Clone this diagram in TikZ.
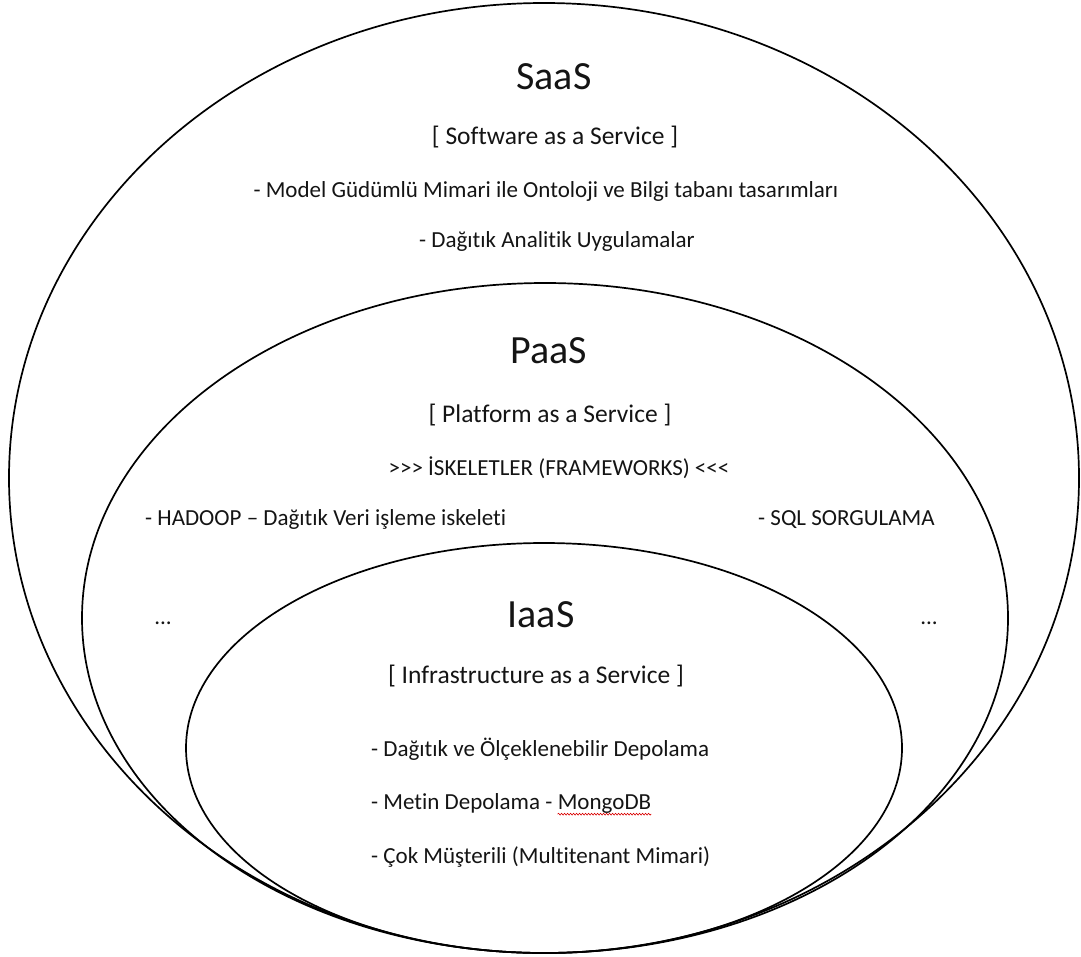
\documentclass[tikz,border=0pt]{standalone}
\usepackage{fontspec}
\setmainfont{Carlito}[Ligatures={NoCommon,NoContextual}]
\usetikzlibrary{decorations.pathmorphing}
\begin{document}
\begin{tikzpicture}[x=1pt,y=-1pt,
  shell/.style={line width=1.7pt, draw=black},
  ttl/.style={inner sep=0pt, anchor=base, text=black!92, font=\fontsize{40}{48}\selectfont},
  sub/.style={inner sep=0pt, anchor=base, text=black!92, font=\fontsize{25.5}{30}\selectfont},
  itm/.style={inner sep=0pt, anchor=base, text=black!92, font=\fontsize{23}{28}\selectfont},
  itmw/.style={itm, anchor=base west},
  spell/.style={draw=red!85!black, line width=0.6pt, decorate, decoration={snake, amplitude=0.9pt, segment length=3pt}}
]
\useasboundingbox (0,0) rectangle (1081,956);

% shells
\draw[shell] (544,478) ellipse [x radius=535pt, y radius=475pt];
\draw[shell] (545,618) ellipse [x radius=463pt, y radius=335pt];
\draw[shell] (544,748) ellipse [x radius=358pt, y radius=205pt];

% SaaS
\node[ttl] (saas) at (554,89) {SaaS};
\node[sub] (saassub) at (555,144) {[ Software as a Service ]};
\node[itm] (saas1) at (546,197) {- Model Güdümlü Mimari ile Ontoloji ve Bilgi tabanı tasarımları};
\node[itm] (saas2) at (557,247) {- Dağıtık Analitik Uygulamalar};

% PaaS
\node[ttl] (paas) at (549,363) {PaaS};
\node[sub] (paassub) at (550,422) {[ Platform as a Service ]};
\node[itm] (paasfw) at (559,475) {>{}>{}> İSKELETLER (FRAMEWORKS) <{}<{}<};
\node[itmw] (hadoop) at (145,525) {- HADOOP – Dağıtık Veri işleme iskeleti};
\node[itmw] (sql) at (758,525) {- SQL SORGULAMA};
\node[itm] (dotsl) at (163,624) {...};
\node[itm] (dotsr) at (929,624) {...};

% IaaS
\node[ttl] (iaas) at (541,627) {IaaS};
\node[sub] (iaassub) at (536,683) {[ Infrastructure as a Service ]};
\node[itmw] (iaas1) at (371,756) {- Dağıtık ve Ölçeklenebilir Depolama};
\node[itmw] (iaas2) at (371,809) {- Metin Depolama -};
\node[itmw] (mongo) at ([xshift=5pt]iaas2.base east) {MongoDB};
\node[itmw] (iaas3) at (371,863) {- Çok Müşterili (Multitenant Mimari)};
\draw[spell] ([yshift=-1pt]mongo.south west) -- ([yshift=-1pt]mongo.south east);
\end{tikzpicture}
\end{document}
